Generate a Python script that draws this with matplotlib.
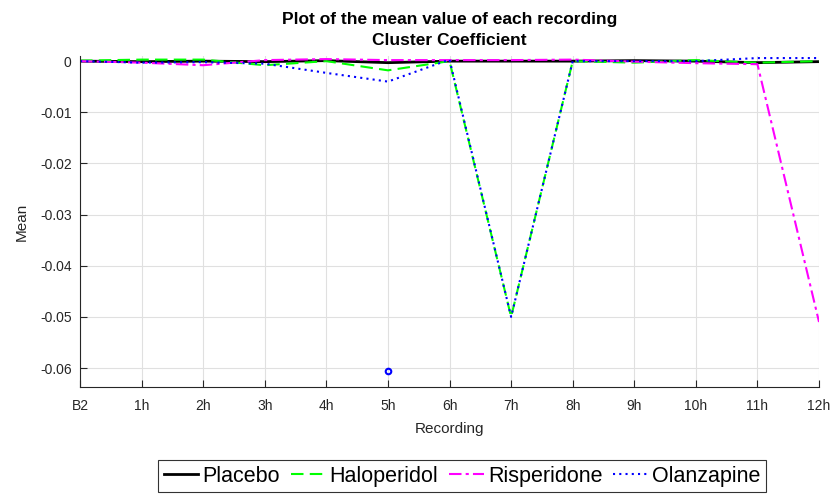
import matplotlib
matplotlib.use("Agg")
import matplotlib.pyplot as plt

plt.rcParams['font.family'] = ['Liberation Sans', 'DejaVu Sans']

recordings = ["B2", "1h", "2h", "3h", "4h", "5h", "6h", "7h", "8h", "9h", "10h", "11h", "12h"]

placebo = [0.0000, -0.0001, 0.0000, -0.0001, 0.0001, -0.0003, 0.0000, 0.0000, 0.0000, 0.0001, 0.0000, -0.0003, -0.0001]
haloperidol = [0.0001, 0.0003, 0.0003, -0.0008, 0.0000, -0.0018, 0.0000, -0.0500, 0.0000, -0.0003, 0.0002, -0.0003, 0.0000]
risperidone = [0.0000, -0.0003, -0.0008, 0.0002, 0.0004, 0.0002, 0.0002, 0.0002, 0.0003, -0.0001, -0.0004, -0.0006, -0.0510]
olanzapine = [0.0000, -0.0003, -0.0002, -0.0005, -0.0023, -0.0040, 0.0003, -0.0500, 0.0000, 0.0000, 0.0000, 0.0006, 0.0006]

# isolated olanzapine value drawn as a marker
olanzapine_point_x = 5
olanzapine_point_y = -0.0605

fig = plt.figure(figsize=(8.31, 4.94), dpi=100)
ax = fig.add_axes([0.0963, 0.2166, 0.8893, 0.6700])

x = list(range(len(recordings)))
ax.plot(x, placebo, color='black', lw=2.0, ls='-', label='Placebo')
ax.plot(x, haloperidol, color='#00ff00', lw=1.5, ls=(0, (6, 3)), label='Haloperidol')
ax.plot(x, risperidone, color='#ff00ff', lw=1.5, ls=(0, (6, 2, 1.5, 2)), label='Risperidone')
ax.plot(x, olanzapine, color='#0000ff', lw=1.5, ls=(0, (1, 2)), label='Olanzapine')
ax.plot([olanzapine_point_x], [olanzapine_point_y], ls='none', marker='o', ms=4,
        mfc='none', mec='#0000ff', mew=1.5)

ax.set_xlim(0, 12)
ax.set_ylim(-0.0637, 0.001)
ax.set_xticks(x)
ax.set_xticklabels(recordings)
ax.set_yticks([0, -0.01, -0.02, -0.03, -0.04, -0.05, -0.06])
ax.set_yticklabels(['0', '-0.01', '-0.02', '-0.03', '-0.04', '-0.05', '-0.06'])
ax.tick_params(direction='in', length=5, labelsize=10, colors='#262626')
ax.tick_params(axis='x', pad=9)
ax.tick_params(axis='y', pad=6)
ax.grid(True, color='#e0e0e0', lw=0.8)
ax.set_axisbelow(True)
for s in ['top', 'right']:
    ax.spines[s].set_visible(False)
for s in ['left', 'bottom']:
    ax.spines[s].set_color('#262626')

ax.set_xlabel('Recording', fontsize=11, color='#262626', labelpad=6)
ax.set_ylabel('Mean', fontsize=11, color='#262626', labelpad=8)
ax.set_title('Plot of the mean value of each recording\nCluster Coefficient',
             fontsize=12.5, fontweight='bold', linespacing=1.5, pad=8)

leg = fig.legend(loc='center', bbox_to_anchor=(0.556, 0.036), ncol=4, fontsize=15.5,
                 frameon=True, fancybox=False, edgecolor='black', handlelength=1.6,
                 handletextpad=0.2, columnspacing=0.5, borderpad=0.25)
leg.get_frame().set_linewidth(0.8)

fig.savefig('out.png', dpi=100)
